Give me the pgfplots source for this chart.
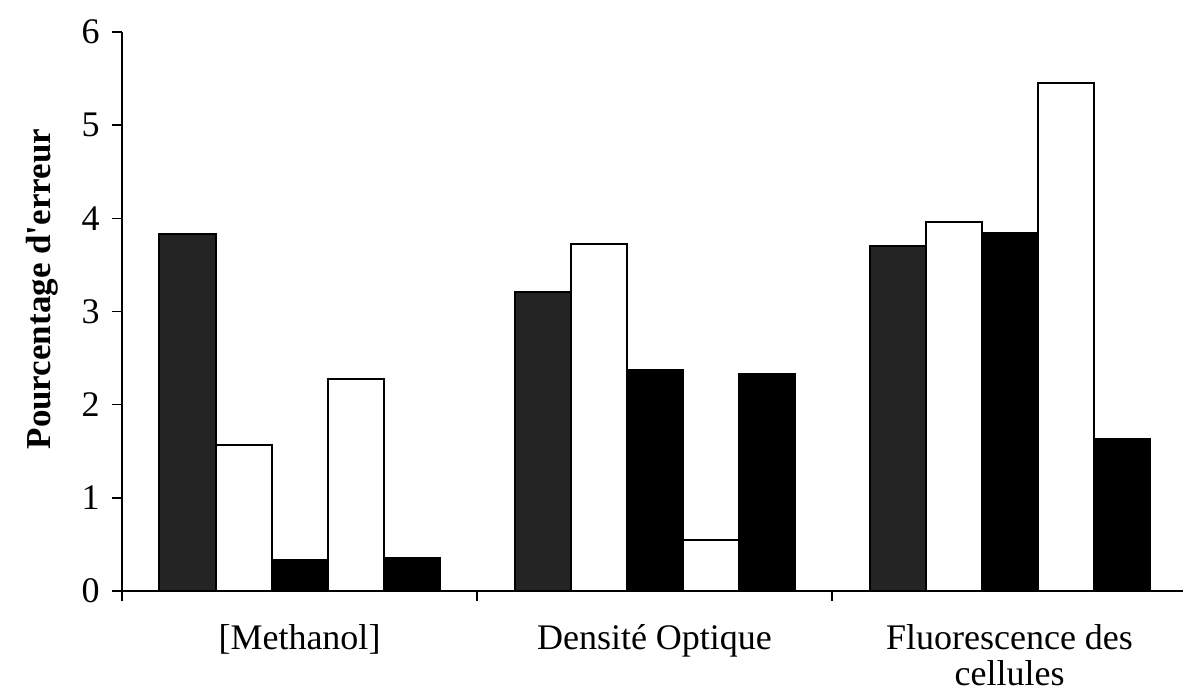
\documentclass[border=0pt]{standalone}
\usepackage{fontspec}
\setmainfont{Liberation Serif}
\usepackage{pgfplots}
\pgfplotsset{compat=1.18}
\begin{document}
\fontsize{18}{18}\selectfont
\begin{tikzpicture}
\useasboundingbox (-61pt,-52pt) rectangle (530.5pt,295.5pt);
\begin{axis}[
  at={(0,0)}, anchor=south west,
  scale only axis, width=532.5pt, height=279.5pt,
  xmin=-0.5, xmax=2.5, ymin=0, ymax=6,
  axis x line*=bottom, axis y line*=left,
  axis line style={-, black, line width=0.8pt},
  ybar=0pt, bar width=28pt,
  xtick={-0.5,0.5,1.5,2.5},
  x tick label as interval,
  xticklabels={{[Methanol]},{Densité Optique},{Fluorescence des\\cellules}},
  xticklabel style={align=center, anchor=north, yshift=-5.5pt},
  ytick={0,1,2,3,4,5,6},
  tick align=outside, major tick length=5pt,
  tick style={black, line width=0.8pt},
  /pgf/number format/assume math mode=true,
  ylabel={\fontsize{17.5}{18}\selectfont\textbf{Pourcentage d\textquotesingle erreur}},
  ylabel style={at={(axis description cs:-0.0751,0.54)}, anchor=center},
  every axis plot/.append style={draw=black, line width=1pt},
]
\addplot[fill=black!86] coordinates {(0,3.83) (1,3.21) (2,3.70)};
\addplot[fill=white] coordinates {(0,1.57) (1,3.72) (2,3.96)};
\addplot[fill=black] coordinates {(0,0.33) (1,2.37) (2,3.84)};
\addplot[fill=white] coordinates {(0,2.28) (1,0.55) (2,5.45)};
\addplot[fill=black] coordinates {(0,0.35) (1,2.33) (2,1.63)};
\end{axis}
\end{tikzpicture}
\end{document}
